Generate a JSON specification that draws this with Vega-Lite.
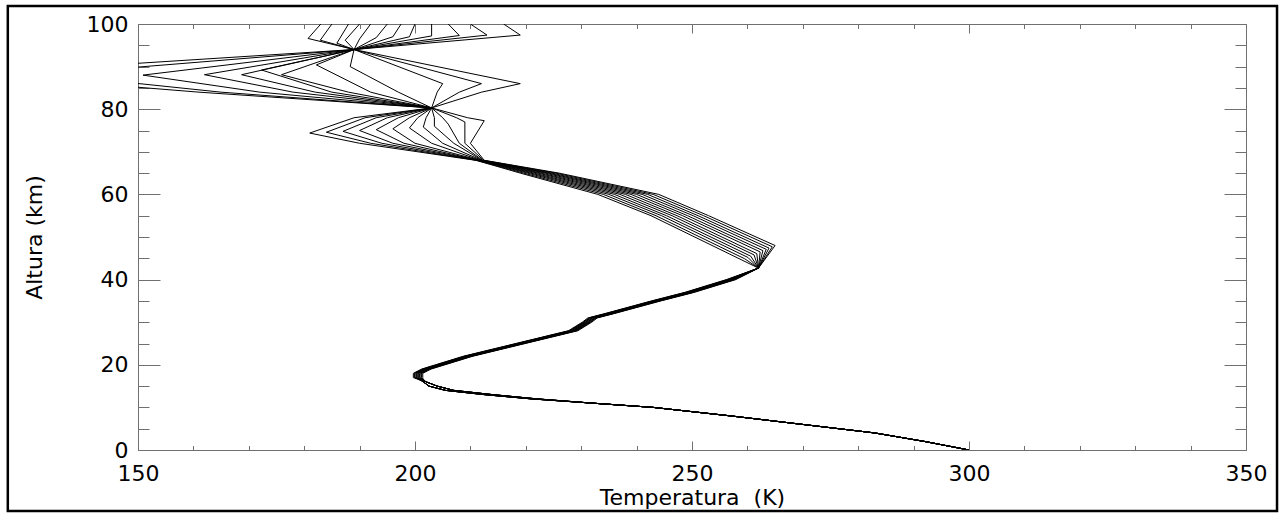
{
"$schema": "https://vega.github.io/schema/vega-lite/v6.json",
"width": 1108, "height": 426,
"autosize": {"type": "none"},
"padding": {"left": 138, "top": 24, "right": 37, "bottom": 63},
"background": "white",
"config": {"view": {"stroke": null},
 "axis": {"labelFont": "DejaVu Sans", "titleFont": "DejaVu Sans", "labelFontSize": 22, "titleFontSize": 22, "titleFontWeight": "normal", "labelColor": "#000", "titleColor": "#000", "domainColor": "#707070", "tickColor": "#707070", "grid": false, "domainWidth": 1, "tickWidth": 1, "labelOverlap": false, "labelFlush": false}},
"data": {"values": [
{"p":0,"z":0,"t":300},{"p":0,"z":2,"t":292},{"p":0,"z":4,"t":283},{"p":0,"z":6,"t":270},{"p":0,"z":8,"t":257},{"p":0,"z":10,"t":243},{"p":0,"z":11,"t":232},{"p":0,"z":12,"t":222},{"p":0,"z":13,"t":214},{"p":0,"z":14,"t":207},{"p":0,"z":15,"t":204},{"p":0,"z":16,"t":202},{"p":0,"z":17,"t":199.7},{"p":0,"z":18,"t":199.7},{"p":0,"z":19,"t":201.2},{"p":0,"z":20,"t":203.7},{"p":0,"z":22,"t":208.7},{"p":0,"z":25,"t":218.2},{"p":0,"z":28,"t":227.7},{"p":0,"z":30,"t":230.2},{"p":0,"z":31,"t":231.2},{"p":0,"z":32,"t":234.2},{"p":0,"z":35,"t":242.7},{"p":0,"z":37,"t":248.7},{"p":0,"z":40,"t":256.2},{"p":0,"z":42.7,"t":262},{"p":0,"z":44.6,"t":259},{"p":0,"z":55,"t":242.6},{"p":0,"z":60,"t":233},{"p":0,"z":65,"t":219},{"p":0,"z":68,"t":211},{"p":0,"z":72,"t":190},{"p":0,"z":74.4,"t":181},{"p":0,"z":78,"t":189},{"p":0,"z":80.3,"t":203},{"p":0,"z":84,"t":161},{"p":0,"z":88.3,"t":120},{"p":0,"z":94,"t":189},{"p":0,"z":96.6,"t":180.7},{"p":0,"z":100,"t":183},
{"p":1,"z":0,"t":300},{"p":1,"z":2,"t":292},{"p":1,"z":4,"t":283},{"p":1,"z":6,"t":270},{"p":1,"z":8,"t":257},{"p":1,"z":10,"t":243},{"p":1,"z":11,"t":232},{"p":1,"z":12,"t":221},{"p":1,"z":13,"t":212.5},{"p":1,"z":14,"t":205.5},{"p":1,"z":15,"t":202.5},{"p":1,"z":16,"t":201.5},{"p":1,"z":17,"t":199.9},{"p":1,"z":18,"t":199.9},{"p":1,"z":19,"t":201.4},{"p":1,"z":20,"t":203.9},{"p":1,"z":22,"t":208.9},{"p":1,"z":25,"t":218.4},{"p":1,"z":28,"t":227.9},{"p":1,"z":30,"t":230.4},{"p":1,"z":31,"t":231.4},{"p":1,"z":32,"t":234.4},{"p":1,"z":35,"t":242.9},{"p":1,"z":37,"t":248.9},{"p":1,"z":40,"t":256.4},{"p":1,"z":42.7,"t":262},{"p":1,"z":44.9,"t":259.5},{"p":1,"z":55,"t":243.5},{"p":1,"z":60,"t":234},{"p":1,"z":65,"t":219.6},{"p":1,"z":68,"t":211.1},{"p":1,"z":72,"t":192},{"p":1,"z":74.6,"t":184},{"p":1,"z":78,"t":191},{"p":1,"z":80.3,"t":203},{"p":1,"z":84,"t":165},{"p":1,"z":88.2,"t":134},{"p":1,"z":94,"t":189},{"p":1,"z":96.2,"t":182.9},{"p":1,"z":100,"t":185},
{"p":2,"z":0,"t":300},{"p":2,"z":2,"t":292},{"p":2,"z":4,"t":283},{"p":2,"z":6,"t":270},{"p":2,"z":8,"t":257},{"p":2,"z":10,"t":243},{"p":2,"z":11,"t":232},{"p":2,"z":12,"t":222},{"p":2,"z":13,"t":214},{"p":2,"z":14,"t":207},{"p":2,"z":15,"t":204},{"p":2,"z":16,"t":202},{"p":2,"z":17,"t":200},{"p":2,"z":18,"t":200},{"p":2,"z":19,"t":201.5},{"p":2,"z":20,"t":204},{"p":2,"z":22,"t":209},{"p":2,"z":25,"t":218.5},{"p":2,"z":28,"t":228},{"p":2,"z":30,"t":230.5},{"p":2,"z":31,"t":231.5},{"p":2,"z":32,"t":234.5},{"p":2,"z":35,"t":243},{"p":2,"z":37,"t":249},{"p":2,"z":40,"t":256.5},{"p":2,"z":42.7,"t":262},{"p":2,"z":45.2,"t":260.1},{"p":2,"z":55,"t":244.5},{"p":2,"z":60,"t":235},{"p":2,"z":65,"t":220.3},{"p":2,"z":68,"t":211.3},{"p":2,"z":72,"t":194},{"p":2,"z":74.8,"t":187},{"p":2,"z":78,"t":193},{"p":2,"z":80.3,"t":203},{"p":2,"z":84,"t":172},{"p":2,"z":88,"t":150.9},{"p":2,"z":94,"t":189},{"p":2,"z":95.5,"t":185.9},{"p":2,"z":100,"t":188},
{"p":3,"z":0,"t":300},{"p":3,"z":2,"t":292},{"p":3,"z":4,"t":283},{"p":3,"z":6,"t":270},{"p":3,"z":8,"t":257},{"p":3,"z":10,"t":243},{"p":3,"z":11,"t":232},{"p":3,"z":12,"t":221},{"p":3,"z":13,"t":212.5},{"p":3,"z":14,"t":205.5},{"p":3,"z":15,"t":202.5},{"p":3,"z":16,"t":201.5},{"p":3,"z":17,"t":200.2},{"p":3,"z":18,"t":200.2},{"p":3,"z":19,"t":201.7},{"p":3,"z":20,"t":204.2},{"p":3,"z":22,"t":209.2},{"p":3,"z":25,"t":218.7},{"p":3,"z":28,"t":228.2},{"p":3,"z":30,"t":230.7},{"p":3,"z":31,"t":231.7},{"p":3,"z":32,"t":234.7},{"p":3,"z":35,"t":243.2},{"p":3,"z":37,"t":249.2},{"p":3,"z":40,"t":256.7},{"p":3,"z":42.7,"t":262},{"p":3,"z":45.5,"t":260.6},{"p":3,"z":55,"t":245.4},{"p":3,"z":60,"t":236},{"p":3,"z":65,"t":220.9},{"p":3,"z":68,"t":211.4},{"p":3,"z":72,"t":196},{"p":3,"z":75,"t":190},{"p":3,"z":78,"t":195},{"p":3,"z":80.3,"t":203},{"p":3,"z":84,"t":178},{"p":3,"z":88.1,"t":162},{"p":3,"z":94,"t":189},{"p":3,"z":96.2,"t":187.4},{"p":3,"z":100,"t":190},
{"p":4,"z":0,"t":300},{"p":4,"z":2,"t":292},{"p":4,"z":4,"t":283},{"p":4,"z":6,"t":270},{"p":4,"z":8,"t":257},{"p":4,"z":10,"t":243},{"p":4,"z":11,"t":232},{"p":4,"z":12,"t":222},{"p":4,"z":13,"t":214},{"p":4,"z":14,"t":207},{"p":4,"z":15,"t":204},{"p":4,"z":16,"t":202},{"p":4,"z":17,"t":200.3},{"p":4,"z":18,"t":200.3},{"p":4,"z":19,"t":201.8},{"p":4,"z":20,"t":204.3},{"p":4,"z":22,"t":209.3},{"p":4,"z":25,"t":218.8},{"p":4,"z":28,"t":228.3},{"p":4,"z":30,"t":230.8},{"p":4,"z":31,"t":231.8},{"p":4,"z":32,"t":234.8},{"p":4,"z":35,"t":243.3},{"p":4,"z":37,"t":249.3},{"p":4,"z":40,"t":256.8},{"p":4,"z":42.7,"t":262},{"p":4,"z":45.8,"t":261.2},{"p":4,"z":55,"t":246.4},{"p":4,"z":60,"t":237},{"p":4,"z":65,"t":221.5},{"p":4,"z":68,"t":211.5},{"p":4,"z":72,"t":198},{"p":4,"z":75.2,"t":193},{"p":4,"z":78,"t":197},{"p":4,"z":80.3,"t":203},{"p":4,"z":84,"t":182},{"p":4,"z":88.1,"t":168.7},{"p":4,"z":94,"t":189},{"p":4,"z":96.5,"t":190},{"p":4,"z":100,"t":192},
{"p":5,"z":0,"t":300},{"p":5,"z":2,"t":292},{"p":5,"z":4,"t":283},{"p":5,"z":6,"t":270},{"p":5,"z":8,"t":257},{"p":5,"z":10,"t":243},{"p":5,"z":11,"t":232},{"p":5,"z":12,"t":221},{"p":5,"z":13,"t":212.5},{"p":5,"z":14,"t":205.5},{"p":5,"z":15,"t":202.5},{"p":5,"z":16,"t":201.5},{"p":5,"z":17,"t":200.5},{"p":5,"z":18,"t":200.5},{"p":5,"z":19,"t":202},{"p":5,"z":20,"t":204.5},{"p":5,"z":22,"t":209.5},{"p":5,"z":25,"t":219},{"p":5,"z":28,"t":228.5},{"p":5,"z":30,"t":231},{"p":5,"z":31,"t":232},{"p":5,"z":32,"t":235},{"p":5,"z":35,"t":243.5},{"p":5,"z":37,"t":249.5},{"p":5,"z":40,"t":257},{"p":5,"z":42.7,"t":262},{"p":5,"z":46.1,"t":261.7},{"p":5,"z":55,"t":247.3},{"p":5,"z":60,"t":238},{"p":5,"z":65,"t":222.2},{"p":5,"z":68,"t":211.7},{"p":5,"z":72,"t":200},{"p":5,"z":75.4,"t":196},{"p":5,"z":78,"t":199},{"p":5,"z":80.3,"t":203},{"p":5,"z":84,"t":185},{"p":5,"z":89.2,"t":172.3},{"p":5,"z":94,"t":189},{"p":5,"z":96.8,"t":193},{"p":5,"z":100,"t":195},
{"p":6,"z":0,"t":300},{"p":6,"z":2,"t":292},{"p":6,"z":4,"t":283},{"p":6,"z":6,"t":270},{"p":6,"z":8,"t":257},{"p":6,"z":10,"t":243},{"p":6,"z":11,"t":232},{"p":6,"z":12,"t":222},{"p":6,"z":13,"t":214},{"p":6,"z":14,"t":207},{"p":6,"z":15,"t":204},{"p":6,"z":16,"t":202},{"p":6,"z":17,"t":200.6},{"p":6,"z":18,"t":200.6},{"p":6,"z":19,"t":202.1},{"p":6,"z":20,"t":204.6},{"p":6,"z":22,"t":209.6},{"p":6,"z":25,"t":219.1},{"p":6,"z":28,"t":228.6},{"p":6,"z":30,"t":231.1},{"p":6,"z":31,"t":232.1},{"p":6,"z":32,"t":235.1},{"p":6,"z":35,"t":243.6},{"p":6,"z":37,"t":249.6},{"p":6,"z":40,"t":257.1},{"p":6,"z":42.7,"t":262},{"p":6,"z":46.5,"t":262.3},{"p":6,"z":55,"t":248.3},{"p":6,"z":60,"t":239},{"p":6,"z":65,"t":222.8},{"p":6,"z":68,"t":211.8},{"p":6,"z":72,"t":203},{"p":6,"z":75.6,"t":199},{"p":6,"z":78,"t":200.5},{"p":6,"z":80.3,"t":203},{"p":6,"z":84,"t":188},{"p":6,"z":88.1,"t":175.9},{"p":6,"z":94,"t":189},{"p":6,"z":97,"t":196},{"p":6,"z":100,"t":197.5},
{"p":7,"z":0,"t":300},{"p":7,"z":2,"t":292},{"p":7,"z":4,"t":283},{"p":7,"z":6,"t":270},{"p":7,"z":8,"t":257},{"p":7,"z":10,"t":243},{"p":7,"z":11,"t":232},{"p":7,"z":12,"t":221},{"p":7,"z":13,"t":212.5},{"p":7,"z":14,"t":205.5},{"p":7,"z":15,"t":202.5},{"p":7,"z":16,"t":201.5},{"p":7,"z":17,"t":200.8},{"p":7,"z":18,"t":200.8},{"p":7,"z":19,"t":202.3},{"p":7,"z":20,"t":204.8},{"p":7,"z":22,"t":209.8},{"p":7,"z":25,"t":219.3},{"p":7,"z":28,"t":228.8},{"p":7,"z":30,"t":231.3},{"p":7,"z":31,"t":232.3},{"p":7,"z":32,"t":235.3},{"p":7,"z":35,"t":243.8},{"p":7,"z":37,"t":249.8},{"p":7,"z":40,"t":257.3},{"p":7,"z":42.7,"t":262},{"p":7,"z":46.8,"t":262.8},{"p":7,"z":55,"t":249.2},{"p":7,"z":60,"t":240},{"p":7,"z":65,"t":223.5},{"p":7,"z":68,"t":212},{"p":7,"z":72,"t":205},{"p":7,"z":75.8,"t":201.5},{"p":7,"z":78,"t":202},{"p":7,"z":80.3,"t":203},{"p":7,"z":84,"t":192},{"p":7,"z":90.4,"t":182.2},{"p":7,"z":94,"t":189},{"p":7,"z":97,"t":199},{"p":7,"z":100,"t":200},
{"p":8,"z":0,"t":300},{"p":8,"z":2,"t":292},{"p":8,"z":4,"t":283},{"p":8,"z":6,"t":270},{"p":8,"z":8,"t":257},{"p":8,"z":10,"t":243},{"p":8,"z":11,"t":232},{"p":8,"z":12,"t":222},{"p":8,"z":13,"t":214},{"p":8,"z":14,"t":207},{"p":8,"z":15,"t":204},{"p":8,"z":16,"t":202},{"p":8,"z":17,"t":200.9},{"p":8,"z":18,"t":200.9},{"p":8,"z":19,"t":202.4},{"p":8,"z":20,"t":204.9},{"p":8,"z":22,"t":209.9},{"p":8,"z":25,"t":219.4},{"p":8,"z":28,"t":228.9},{"p":8,"z":30,"t":231.4},{"p":8,"z":31,"t":232.4},{"p":8,"z":32,"t":235.4},{"p":8,"z":35,"t":243.9},{"p":8,"z":37,"t":249.9},{"p":8,"z":40,"t":257.4},{"p":8,"z":42.7,"t":262},{"p":8,"z":47.1,"t":263.4},{"p":8,"z":55,"t":250.2},{"p":8,"z":60,"t":241},{"p":8,"z":65,"t":224.1},{"p":8,"z":68,"t":212.1},{"p":8,"z":72,"t":207},{"p":8,"z":76,"t":203.5},{"p":8,"z":78,"t":203.5},{"p":8,"z":80.3,"t":203},{"p":8,"z":84,"t":197},{"p":8,"z":90,"t":188.3},{"p":8,"z":94,"t":189},{"p":8,"z":97.2,"t":203},{"p":8,"z":100,"t":203},
{"p":9,"z":0,"t":300},{"p":9,"z":2,"t":292},{"p":9,"z":4,"t":283},{"p":9,"z":6,"t":270},{"p":9,"z":8,"t":257},{"p":9,"z":10,"t":243},{"p":9,"z":11,"t":232},{"p":9,"z":12,"t":221},{"p":9,"z":13,"t":212.5},{"p":9,"z":14,"t":205.5},{"p":9,"z":15,"t":202.5},{"p":9,"z":16,"t":201.5},{"p":9,"z":17,"t":201.1},{"p":9,"z":18,"t":201.1},{"p":9,"z":19,"t":202.6},{"p":9,"z":20,"t":205.1},{"p":9,"z":22,"t":210.1},{"p":9,"z":25,"t":219.6},{"p":9,"z":28,"t":229.1},{"p":9,"z":30,"t":231.6},{"p":9,"z":31,"t":232.6},{"p":9,"z":32,"t":235.6},{"p":9,"z":35,"t":244.1},{"p":9,"z":37,"t":250.1},{"p":9,"z":40,"t":257.6},{"p":9,"z":42.7,"t":262},{"p":9,"z":47.4,"t":263.9},{"p":9,"z":55,"t":251.1},{"p":9,"z":60,"t":242},{"p":9,"z":65,"t":224.7},{"p":9,"z":68,"t":212.2},{"p":9,"z":72,"t":208},{"p":9,"z":76.5,"t":206},{"p":9,"z":78,"t":205},{"p":9,"z":80.3,"t":203},{"p":9,"z":84,"t":204},{"p":9,"z":86,"t":205},{"p":9,"z":94,"t":189},{"p":9,"z":97.3,"t":208},{"p":9,"z":100,"t":206},
{"p":10,"z":0,"t":300},{"p":10,"z":2,"t":292},{"p":10,"z":4,"t":283},{"p":10,"z":6,"t":270},{"p":10,"z":8,"t":257},{"p":10,"z":10,"t":243},{"p":10,"z":11,"t":232},{"p":10,"z":12,"t":222},{"p":10,"z":13,"t":214},{"p":10,"z":14,"t":207},{"p":10,"z":15,"t":204},{"p":10,"z":16,"t":202},{"p":10,"z":17,"t":201.2},{"p":10,"z":18,"t":201.2},{"p":10,"z":19,"t":202.7},{"p":10,"z":20,"t":205.2},{"p":10,"z":22,"t":210.2},{"p":10,"z":25,"t":219.7},{"p":10,"z":28,"t":229.2},{"p":10,"z":30,"t":231.7},{"p":10,"z":31,"t":232.7},{"p":10,"z":32,"t":235.7},{"p":10,"z":35,"t":244.2},{"p":10,"z":37,"t":250.2},{"p":10,"z":40,"t":257.7},{"p":10,"z":42.7,"t":262},{"p":10,"z":47.7,"t":264.5},{"p":10,"z":55,"t":252.1},{"p":10,"z":60,"t":243},{"p":10,"z":65,"t":225.4},{"p":10,"z":68,"t":212.4},{"p":10,"z":72,"t":209},{"p":10,"z":77,"t":209},{"p":10,"z":78,"t":207.5},{"p":10,"z":80.3,"t":203},{"p":10,"z":84,"t":208},{"p":10,"z":86,"t":212},{"p":10,"z":94,"t":189},{"p":10,"z":97.4,"t":213},{"p":10,"z":100,"t":210},
{"p":11,"z":0,"t":300},{"p":11,"z":2,"t":292},{"p":11,"z":4,"t":283},{"p":11,"z":6,"t":270},{"p":11,"z":8,"t":257},{"p":11,"z":10,"t":243},{"p":11,"z":11,"t":232},{"p":11,"z":12,"t":221},{"p":11,"z":13,"t":212.5},{"p":11,"z":14,"t":205.5},{"p":11,"z":15,"t":202.5},{"p":11,"z":16,"t":201.5},{"p":11,"z":17,"t":201.4},{"p":11,"z":18,"t":201.4},{"p":11,"z":19,"t":202.9},{"p":11,"z":20,"t":205.4},{"p":11,"z":22,"t":210.4},{"p":11,"z":25,"t":219.9},{"p":11,"z":28,"t":229.4},{"p":11,"z":30,"t":231.9},{"p":11,"z":31,"t":232.9},{"p":11,"z":32,"t":235.9},{"p":11,"z":35,"t":244.4},{"p":11,"z":37,"t":250.4},{"p":11,"z":40,"t":257.9},{"p":11,"z":42.7,"t":262},{"p":11,"z":48,"t":265},{"p":11,"z":55,"t":253},{"p":11,"z":60,"t":244},{"p":11,"z":65,"t":226},{"p":11,"z":68,"t":212.5},{"p":11,"z":72,"t":210},{"p":11,"z":77.3,"t":212.5},{"p":11,"z":78,"t":209.5},{"p":11,"z":80.3,"t":203},{"p":11,"z":84,"t":212},{"p":11,"z":86,"t":219},{"p":11,"z":94,"t":189},{"p":11,"z":97.4,"t":219},{"p":11,"z":100,"t":216}
]},
"layer": [
 {"mark": {"type": "line", "color": "#000", "strokeWidth": 1, "clip": true},
  "encoding": {
   "x": {"field": "t", "type": "quantitative", "scale": {"domain": [150, 350], "nice": false, "zero": false},
    "axis": {"orient": "bottom", "title": "Temperatura\u00a0\u00a0(K)", "values": [150,160,170,180,190,200,210,220,230,240,250,260,270,280,290,300,310,320,330,340,350],
     "labelExpr": "datum.value % 50 === 0 ? datum.label : ''",
     "tickSize": {"condition": {"test": "datum.value % 50 === 0", "value": -9}, "value": -4.5},
     "labelPadding": 22, "titlePadding": -1}},
   "y": {"field": "z", "type": "quantitative", "scale": {"domain": [0, 100], "nice": false, "zero": false},
    "axis": {"orient": "left", "title": "Altura\u00a0(km)", "values": [0,5,10,15,20,25,30,35,40,45,50,55,60,65,70,75,80,85,90,95,100],
     "labelExpr": "datum.value % 20 === 0 ? datum.label : ''",
     "tickSize": {"condition": {"test": "datum.value % 20 === 0", "value": -22}, "value": -11},
     "labelPadding": 32, "titlePadding": 40}},
   "detail": {"field": "p"},
   "order": {"field": "z"}
  }},
 {"data": {"values": [{"frame": 1}]},
  "mark": {"type": "rect", "filled": false, "stroke": "#000", "strokeWidth": 2.5, "clip": false},
  "encoding": {
   "x": {"datum": 126.5, "type": "quantitative", "scale": {"domain": [150, 350], "nice": false, "zero": false},
    "axis": {"orient": "top", "title": null, "labels": false, "values": [150,160,170,180,190,200,210,220,230,240,250,260,270,280,290,300,310,320,330,340,350],
     "tickSize": {"condition": {"test": "datum.value % 50 === 0", "value": -9}, "value": -4.5}}},
   "x2": {"datum": 355.6},
   "y": {"datum": -14.3, "type": "quantitative", "scale": {"domain": [0, 100], "nice": false, "zero": false},
    "axis": {"orient": "right", "title": null, "labels": false, "values": [0,5,10,15,20,25,30,35,40,45,50,55,60,65,70,75,80,85,90,95,100],
     "tickSize": {"condition": {"test": "datum.value % 20 === 0", "value": -22}, "value": -11}}},
   "y2": {"datum": 104.2}
  }}
],
"resolve": {"axis": {"x": "independent", "y": "independent"}}
}
